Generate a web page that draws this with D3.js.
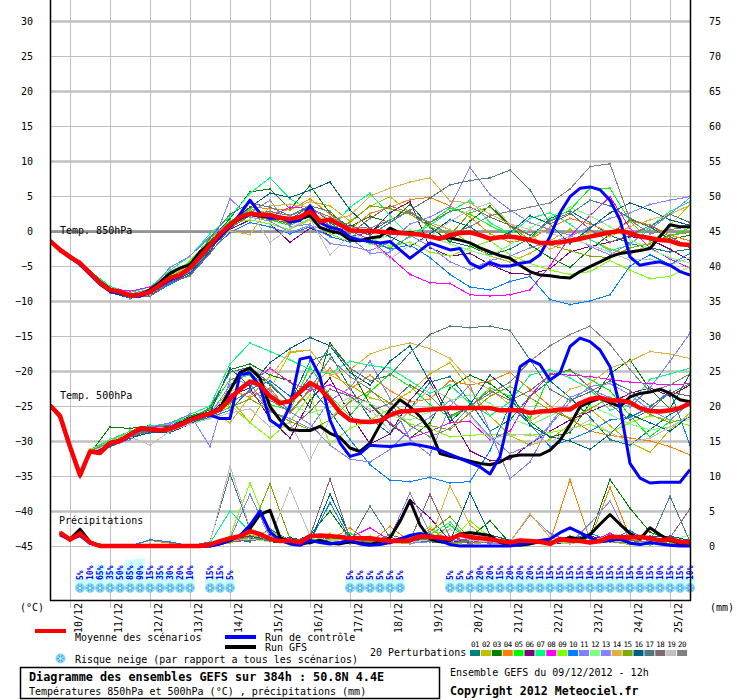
<!DOCTYPE html>
<html>
<head>
<meta charset="utf-8">
<script src="https://cdn.jsdelivr.net/npm/d3@7"></script>
<style>
body { margin: 0; background: #fff; }
svg { display: block; }
text { font-family: "DejaVu Sans Mono", monospace; }
</style>
</head>
<body>
<script>

// time steps (hours after 09/12/2012 12h)
var mainHours = d3.range(0, 385, 6);
var pertHours = [0, 6, 12, 18, 24, 36, 48, 60, 72, 84, 96, 108, 120, 132, 144, 156, 168, 180,
	192, 204, 216, 228, 240, 252, 264, 276, 288, 300, 312, 324, 336, 348, 360, 372, 384];

var dayLabels = ["10/12", "11/12", "12/12", "13/12", "14/12", "15/12", "16/12", "17/12",
	"18/12", "19/12", "20/12", "21/12", "22/12", "23/12", "24/12", "25/12"];

var leftTicks = [-45, -40, -35, -30, -25, -20, -15, -10, -5, 0, 5, 10, 15, 20, 25, 30];
var rightTicks = [0, 5, 10, 15, 20, 25, 30, 35, 40, 45, 50, 55, 60, 65, 70, 75];

var pertColors = ["#008080", "#c0c000", "#008000", "#ff8000", "#00ff00", "#800080", "#00ff80",
	"#ff00ff", "#80ff00", "#0080ff", "#8080ff", "#80ff80", "#8484ff", "#e0b040", "#80a800",
	"#006080", "#507880", "#806870", "#c0c0c0", "#808080"];

// mean of the scenarios (6h)
var mean850 = [-1.4,-2.7,-3.7,-4.6,-6.0,-7.4,-8.4,-8.7,-9.2,-9.1,
	-8.7,-7.7,-6.7,-6.3,-5.3,-3.7,-2.0,-0.4,0.9,2.0,
	2.5,2.3,2.3,1.9,1.7,2.0,2.8,1.4,1.6,0.9,
	0.1,0.0,0.0,-0.1,-0.2,-0.3,-0.4,-0.5,-0.8,-1.1,
	-0.6,-0.3,-0.2,-0.6,-1.1,-0.9,-0.8,-1.0,-1.3,-1.7,
	-1.7,-1.6,-1.4,-1.1,-0.8,-0.5,-0.2,0.0,-0.3,-0.8,
	-1.0,-1.3,-1.4,-1.9,-2.0];
var mean500 = [-24.9,-26.4,-30.8,-34.9,-31.5,-31.7,-30.3,-30.0,-29.1,-28.2,
	-28.3,-28.5,-28.3,-27.7,-27.0,-26.5,-26.1,-25.5,-24.0,-22.6,
	-21.5,-22.0,-23.6,-24.6,-24.3,-23.0,-21.7,-22.5,-24.1,-25.9,
	-27.0,-27.2,-27.3,-27.1,-26.3,-25.8,-25.7,-25.6,-25.5,-25.4,
	-25.3,-25.3,-25.3,-25.3,-25.3,-25.6,-25.6,-25.6,-26.0,-25.8,
	-25.7,-25.5,-25.5,-24.6,-24.0,-23.8,-24.2,-24.2,-24.5,-25.3,
	-25.7,-25.8,-25.6,-25.3,-24.6];
var meanPrecip = [null,1.9,0.9,1.8,0.5,0,0,0,0,0,0,0,0,0,0,0,
	0.2,0.7,1.1,1.4,2.1,1.7,1.0,0.7,0.8,0.5,
	1.4,1.5,1.4,1.3,1.1,1.1,1.1,0.9,0.7,0.7,
	0.8,1.4,1.3,1.2,1.0,1.6,1.3,1.1,1.0,0.7,
	0.5,0.8,0.7,0.6,0.3,1.0,0.8,0.7,0.5,0.7,
	1.3,1.3,1.2,1.3,1.1,0.8,1.0,0.6,0.5];

// control run (6h)
var ctrl850 = [-1.4,-2.7,-3.8,-4.8,-6.2,-7.6,-8.6,-8.9,-9.3,-9.3,
	-8.8,-7.9,-7.0,-6.4,-5.2,-3.6,-2.2,-0.8,0.6,2.4,
	4.4,2.5,1.8,2.0,1.3,1.5,3.6,1.2,0.5,0.2,
	-0.9,-1.3,-1.5,-1.7,-1.5,-2.7,-3.9,-2.8,-1.7,-2.2,
	-2.7,-2.5,-4.6,-5.3,-4.5,-5.0,-5.0,-4.6,-4.4,-3.4,
	-0.8,2.6,4.9,6.1,6.3,5.9,4.4,1.6,-3.7,-4.9,
	-4.6,-4.4,-4.9,-5.8,-6.3];
var ctrl500 = [-24.9,-26.6,-31.0,-34.8,-31.5,-31.8,-30.4,-30.0,-29.0,-28.4,
	-28.4,-28.6,-28.3,-27.6,-27.0,-26.4,-26.3,-26.8,-26.8,-20.5,
	-20.3,-22.2,-27.0,-28.0,-25.0,-18.3,-18.0,-20.8,-27.0,-30.3,
	-32.2,-31.8,-30.6,-30.7,-30.8,-30.6,-30.4,-30.6,-30.9,-31.3,
	-31.9,-32.5,-33.1,-33.7,-34.7,-32.2,-26.0,-19.4,-18.4,-19.1,
	-21.3,-20.3,-16.5,-15.3,-15.8,-17.0,-19.4,-25.1,-33.2,-35.3,
	-36.0,-35.9,-35.9,-35.9,-34.1];
var ctrlPrecip = [null,1.6,0.9,1.5,0.4,0,0,0,0,0,0,0,0,0,0,0,
	0,0.3,0.8,1.5,3.0,5.0,2.0,0.8,0.3,0.1,
	0.8,0.5,0.3,0.5,0.8,0.3,0.1,0.2,0.5,1.0,
	1.5,1.8,1.5,0.8,0.2,0,0,0,0,0,
	0,0.2,0.5,0.8,1.0,1.9,2.6,1.9,1.2,0.6,
	0.8,1.0,0.4,0.2,0.5,0.3,0.1,0,0];

// GFS run (6h)
var gfs850 = [-1.4,-2.6,-3.6,-4.6,-5.9,-7.3,-8.3,-8.7,-9.3,-9.1,
	-8.4,-7.3,-6.0,-5.3,-4.8,-3.0,-1.8,-0.4,0.8,1.8,
	2.4,2.1,2.0,1.8,1.5,1.7,2.2,0.5,0.0,-0.3,
	-1.3,-1.4,-1.0,-0.8,0.4,-0.3,-0.2,-0.5,-0.8,-1.0,
	-1.0,-1.3,-1.7,-2.4,-3.0,-3.5,-3.9,-4.9,-5.8,-6.3,
	-6.4,-6.6,-6.7,-5.8,-5.1,-4.4,-3.7,-3.2,-3.0,-2.8,
	-2.5,-0.8,0.9,0.6,0.6];
var gfs500 = [-24.9,-26.4,-30.8,-34.8,-31.5,-31.6,-30.2,-29.9,-29.0,-28.2,
	-28.2,-28.4,-28.2,-27.5,-26.8,-26.3,-26.0,-25.3,-22.8,-20.2,
	-19.6,-21.0,-25.1,-27.0,-28.4,-28.5,-28.5,-27.9,-28.9,-29.5,
	-31.0,-31.5,-30.3,-27.7,-25.6,-24.1,-25.1,-26.5,-28.4,-31.8,
	-32.2,-32.5,-32.9,-33.2,-33.4,-33.0,-32.2,-32.0,-32.0,-32.0,
	-31.3,-29.9,-27.7,-25.1,-24.4,-23.9,-24.5,-25.1,-23.7,-23.2,
	-23.0,-22.6,-23.2,-24.1,-24.4];
var gfsPrecip = [null,1.8,1.0,2.4,0.6,0,0,0,0,0,0,0,0,0,0,0,
	0,0.3,0.8,1.5,2.5,4.5,5.1,1.2,0.6,0.3,
	0.5,0.8,0.4,0.3,0.6,0.4,0.2,0.6,1.2,3.5,
	6.5,3.0,1.0,0.6,0.8,1.7,1.9,1.7,1.5,0.5,
	0.2,0.1,0.3,0.6,0.4,0.8,1.2,1.0,1.6,3.1,
	4.5,3.1,1.8,1.0,2.6,1.6,0.8,0.4,0.3];

// 20 perturbations, one row per member (values at pertHours)
var pert850 = [
	[-1.2,-2.6,-3.6,-4.7,-6.1,-8.6,-9.6,-9.2,-7.2,-5.8,-2.6,0.4,2.8,1.9,1.6,3.6,1.2,-0.8,-0.2,1.6,2.8,0.5,-1.5,-2.2,-3.4,-2.6,-1.0,1.8,2.9,1.2,-0.6,-1.8,-2.4,-3.0,-2.6],
	[-1.3,-2.8,-3.8,-4.6,-5.9,-8.2,-9.0,-8.4,-6.4,-4.9,-1.6,1.2,3.2,2.5,3.1,4.2,3.6,1.4,3.5,4.9,2.6,1.2,0.2,-1.8,-3.6,-4.4,-3.2,-1.4,0.3,-1.2,-2.6,-3.4,-1.8,0.8,3.8],
	[-1.4,-2.7,-3.7,-4.5,-6.0,-8.3,-9.1,-8.5,-6.3,-4.6,-1.4,1.8,5.6,6.0,3.1,6.5,2.5,0.6,2.1,1.2,3.8,0.6,-1.6,1.4,3.6,0.8,-2.0,-3.8,-5.2,-2.6,-0.5,1.6,0.6,-1.2,-0.6],
	[-1.5,-2.8,-3.9,-4.8,-6.2,-8.4,-9.3,-8.6,-6.5,-5.0,-1.8,1.0,3.4,3.2,3.0,4.6,2.4,0.2,2.5,3.4,4.5,4.8,3.6,2.0,-0.4,-1.6,-1.2,0.5,1.8,1.0,-0.2,1.4,0.9,-0.6,-1.4],
	[-1.3,-2.6,-3.6,-4.4,-5.8,-8.1,-9.0,-8.3,-6.0,-4.4,-1.0,1.4,3.0,1.6,0.8,2.2,0.2,-0.6,-1.8,-2.4,-0.8,1.2,3.3,2.4,0.8,-0.6,-1.2,1.5,3.0,6.1,6.1,1.4,-1.4,-0.8,0.5],
	[-1.4,-2.7,-3.7,-4.7,-6.1,-8.5,-9.3,-8.8,-6.8,-5.4,-2.1,0.2,1.6,1.0,-1.6,0.4,-0.6,0.8,-0.4,2.6,4.2,-2.4,-3.6,-3.2,-4.8,-6.0,-6.2,-5.4,-3.0,-2.2,-1.6,-0.8,-1.2,-2.6,-4.2],
	[-1.2,-2.5,-3.5,-4.3,-5.7,-7.9,-8.8,-8.0,-5.6,-3.6,-0.4,2.0,5.4,7.6,4.6,3.0,0.2,3.4,5.4,2.2,-0.8,0.8,2.8,4.4,1.2,-0.4,1.8,2.6,1.0,-1.2,-2.8,-2.0,0.6,2.8,4.2],
	[-1.3,-2.6,-3.6,-4.5,-5.9,-8.2,-8.6,-8.0,-6.9,-5.5,-2.3,0.3,2.4,2.0,3.4,3.2,1.6,0.0,-1.2,-3.7,-6.2,-7.4,-7.5,-9.1,-9.3,-9.1,-8.4,-5.0,-0.8,2.2,4.9,0.4,-2.4,-4.0,-5.3],
	[-1.4,-2.7,-3.7,-4.6,-5.9,-8.3,-9.1,-8.6,-6.6,-4.2,-1.2,1.1,1.6,1.0,0.2,1.6,-0.4,-1.6,-1.0,-2.2,-1.6,-3.0,-3.6,-2.4,-1.4,-3.4,-4.6,-5.6,-6.2,-5.8,-4.2,-5.6,-6.8,-6.5,-5.1],
	[-1.5,-2.9,-3.8,-4.9,-6.2,-8.7,-9.6,-9.3,-7.6,-6.2,-3.0,-0.2,1.2,0.6,-0.4,0.6,-0.8,-1.6,-1.2,-2.6,-2.0,-3.8,-6.2,-8.0,-8.4,-7.2,-6.5,-9.8,-10.5,-10.0,-9.1,-5.0,-3.4,-4.8,-3.2],
	[-1.3,-2.6,-3.6,-4.4,-5.8,-8.2,-9.0,-8.4,-5.2,-3.6,-0.8,1.2,2.6,4.4,0.6,1.0,-1.8,-2.2,-2.8,-1.6,1.0,2.0,3.5,9.1,5.2,3.0,1.2,0.2,-0.6,-2.2,-3.4,-1.8,0.2,2.4,4.8],
	[-1.4,-2.7,-3.7,-4.6,-6.0,-8.4,-9.2,-8.8,-6.9,-5.5,-2.4,0.6,2.2,2.4,1.8,2.4,1.6,-0.2,-1.4,-0.6,0.2,-0.8,-1.8,-2.8,-3.6,-2.0,0.4,2.0,3.4,2.2,0.6,-1.2,-2.6,-3.8,-4.6],
	[-1.4,-2.8,-3.8,-4.7,-6.1,-8.5,-9.4,-9.0,-7.3,-5.9,-2.8,4.6,2.0,1.4,-0.2,0.8,0.0,-1.0,-3.2,-3.0,-0.6,-2.2,-4.4,-5.6,-4.2,-3.6,-2.4,-1.6,-0.8,0.6,1.8,2.6,3.8,4.4,4.9],
	[-1.3,-2.6,-3.6,-4.5,-5.9,-8.3,-9.1,-8.5,-6.5,-5.0,-1.8,0.0,-0.5,3.6,3.8,3.4,1.6,2.2,5.0,6.1,7.0,7.6,4.3,4.0,2.4,1.0,-0.6,-2.6,-1.4,-0.2,-0.8,0.6,1.6,2.4,3.7],
	[-1.4,-2.7,-3.7,-4.6,-6.0,-8.4,-9.2,-8.6,-6.6,-5.1,-2.0,0.8,2.2,1.6,1.2,2.0,0.4,1.2,3.6,3.2,2.4,0.6,-0.6,2.6,3.4,0.6,-1.2,-2.0,-2.8,-3.6,-3.8,-2.4,-1.8,-0.6,-0.2],
	[-1.5,-2.9,-3.9,-4.9,-6.3,-8.8,-9.6,-9.2,-7.4,-6.0,-2.9,1.2,3.4,5.4,4.8,5.8,7.0,3.0,0.4,-0.8,-2.2,-0.4,1.6,0.6,-1.4,-0.2,2.2,1.0,-1.8,0.4,2.6,4.0,3.0,1.6,0.8],
	[-1.4,-2.7,-3.7,-4.6,-6.0,-8.4,-9.3,-8.8,-6.8,-5.4,-1.0,2.4,4.0,3.4,2.2,3.6,2.8,0.2,-0.6,1.2,3.0,4.7,6.6,7.2,7.6,8.7,5.9,1.0,2.4,4.4,3.6,1.8,0.6,2.4,1.2],
	[-1.4,-2.8,-3.7,-4.8,-6.1,-8.6,-9.5,-9.3,-7.4,-6.4,-3.2,0.4,2.2,1.8,1.0,2.4,0.8,-0.4,1.8,3.6,2.6,1.2,2.8,3.4,2.0,0.8,-0.6,1.4,2.6,0.2,-1.6,-0.6,0.8,-0.8,-2.4],
	[-1.4,-2.7,-3.8,-4.7,-6.1,-8.5,-9.5,-9.1,-7.0,-5.6,-2.2,1.0,2.8,-1.6,0.4,1.8,-3.4,-0.6,-1.5,-4.0,-2.0,-0.8,1.4,3.0,4.0,1.0,0.2,-0.4,-1.0,-2.0,-3.0,-4.2,-4.0,-4.9,-3.8],
	[-1.3,-2.6,-3.6,-4.5,-5.9,-8.2,-9.1,-8.6,-6.6,-5.1,-1.8,0.8,2.4,2.8,2.2,3.2,2.0,0.6,0.4,1.6,2.8,1.0,-0.4,0.6,2.2,2.8,3.4,4.0,6.0,9.2,9.6,1.6,-0.4,0.2,0.6]
];

var pert500 = [
	[-24.9,-26.4,-30.9,-35.0,-31.6,-30.5,-29.2,-28.6,-28.4,-27.3,-26.4,-22.5,-19.8,-22.0,-24.6,-18.5,-17.6,-22.4,-26.8,-29.0,-25.4,-21.6,-20.8,-24.4,-28.6,-27.0,-23.6,-21.4,-23.8,-26.6,-29.8,-30.6,-28.4,-26.2,-24.8],
	[-24.8,-26.3,-30.7,-34.8,-31.4,-30.0,-28.8,-28.0,-28.0,-26.8,-25.8,-24.0,-27.4,-22.6,-17.4,-17.0,-20.6,-22.0,-23.8,-24.6,-23.0,-20.4,-18.8,-22.6,-26.4,-29.2,-30.6,-29.8,-27.6,-25.4,-27.8,-30.2,-31.6,-28.4,-26.0],
	[-24.9,-26.5,-31.0,-35.2,-31.8,-28.0,-28.2,-27.8,-27.9,-26.4,-25.6,-19.8,-19.0,-20.6,-21.4,-25.2,-16.0,-19.6,-24.8,-27.6,-29.6,-27.4,-22.4,-20.6,-21.8,-24.0,-27.2,-29.4,-28.8,-24.6,-20.4,-18.4,-22.6,-25.4,-20.4],
	[-24.9,-26.4,-30.8,-34.9,-31.5,-30.4,-29.0,-28.4,-28.6,-27.2,-26.2,-22.6,-23.8,-22.4,-26.0,-22.8,-19.6,-22.6,-20.6,-22.8,-24.4,-24.0,-21.4,-22.0,-21.4,-20.2,-22.6,-25.0,-26.8,-28.6,-29.2,-29.6,-30.0,-30.8,-32.0],
	[-25.0,-26.5,-30.8,-34.9,-31.2,-30.0,-28.6,-28.0,-27.6,-26.6,-25.4,-21.2,-20.6,-24.8,-25.6,-19.4,-23.6,-26.4,-23.0,-20.4,-22.2,-24.8,-26.6,-25.2,-22.4,-23.6,-26.8,-20.6,-20.0,-21.2,-22.8,-26.4,-29.4,-27.2,-24.2],
	[-24.9,-26.3,-30.9,-35.0,-31.7,-30.6,-29.6,-28.4,-28.2,-27.0,-26.0,-23.6,-22.4,-26.8,-29.6,-24.2,-21.0,-26.2,-30.4,-29.0,-24.2,-21.0,-26.4,-31.4,-32.8,-32.6,-30.4,-28.6,-27.0,-25.8,-24.6,-23.2,-22.4,-23.6,-22.0],
	[-24.8,-26.2,-30.6,-34.6,-31.2,-29.8,-28.6,-27.8,-27.6,-26.2,-25.0,-19.0,-16.0,-17.2,-18.4,-19.8,-20.4,-18.6,-19.2,-19.6,-21.4,-23.2,-22.0,-24.6,-26.4,-24.4,-20.6,-19.8,-21.0,-22.6,-25.6,-24.8,-21.2,-20.4,-19.6],
	[-24.9,-26.4,-30.8,-34.8,-31.6,-30.2,-29.0,-28.0,-27.8,-26.8,-25.8,-23.4,-21.8,-19.6,-21.6,-22.8,-22.0,-23.4,-24.6,-27.4,-29.6,-28.6,-27.4,-27.2,-29.8,-28.6,-23.6,-20.4,-20.6,-20.8,-21.2,-21.6,-21.8,-22.0,-21.8],
	[-24.9,-26.4,-30.8,-34.9,-31.2,-30.4,-29.4,-28.6,-28.8,-27.6,-26.6,-24.8,-27.4,-29.6,-27.2,-23.4,-30.4,-28.2,-27.0,-25.4,-27.6,-28.2,-29.4,-29.2,-29.0,-29.0,-29.2,-28.8,-28.2,-27.6,-28.8,-27.4,-26.4,-27.0,-27.8],
	[-24.9,-26.4,-30.8,-34.8,-31.4,-30.2,-29.0,-28.6,-28.4,-27.4,-26.6,-25.6,-22.6,-21.4,-23.6,-22.2,-25.8,-29.8,-33.4,-35.6,-35.8,-35.2,-36.0,-35.8,-31.4,-24.8,-27.6,-30.8,-29.8,-28.6,-27.0,-26.6,-25.2,-22.8,-30.6],
	[-24.9,-26.5,-30.9,-35.0,-31.9,-30.8,-29.8,-28.0,-27.4,-26.2,-30.8,-21.2,-21.8,-25.8,-26.8,-28.2,-24.2,-22.4,-18.6,-24.0,-29.8,-32.0,-25.0,-22.0,-28.6,-35.4,-33.0,-27.6,-23.8,-22.6,-23.8,-25.2,-22.4,-18.6,-14.6],
	[-24.9,-26.4,-30.8,-34.9,-31.4,-30.2,-29.0,-28.2,-28.0,-26.8,-26.0,-23.0,-21.4,-23.4,-24.8,-26.0,-25.2,-23.8,-24.6,-26.4,-27.0,-25.8,-24.2,-23.4,-24.6,-26.8,-27.8,-26.4,-25.2,-25.0,-26.2,-27.6,-28.4,-28.0,-26.8],
	[-24.9,-26.4,-30.8,-34.9,-31.6,-30.4,-29.2,-28.8,-28.6,-27.4,-26.2,-22.0,-20.2,-22.8,-25.8,-27.6,-30.6,-32.6,-33.0,-31.2,-28.4,-26.6,-24.2,-26.2,-29.4,-31.8,-30.6,-27.8,-24.4,-22.2,-21.8,-23.4,-25.6,-27.0,-24.6],
	[-24.9,-26.4,-30.8,-34.9,-31.4,-30.0,-28.8,-28.4,-28.0,-27.0,-25.8,-27.4,-23.6,-20.8,-17.2,-17.0,-20.6,-19.8,-17.6,-16.6,-16.0,-16.8,-18.2,-21.4,-22.6,-24.8,-27.2,-25.4,-22.6,-21.8,-19.6,-18.6,-17.2,-17.6,-18.2],
	[-24.9,-26.4,-30.8,-35.0,-31.6,-30.4,-29.0,-28.6,-28.2,-27.2,-26.4,-25.2,-24.0,-25.6,-27.2,-28.4,-27.0,-24.4,-22.8,-24.6,-26.2,-27.8,-28.4,-26.0,-23.6,-22.2,-23.8,-25.6,-26.8,-25.4,-23.8,-24.6,-26.2,-27.4,-26.6],
	[-24.9,-26.4,-30.9,-35.1,-31.8,-30.8,-29.6,-28.8,-28.8,-27.6,-26.0,-19.6,-22.2,-18.8,-16.8,-15.2,-16.4,-20.2,-22.0,-18.6,-16.4,-21.6,-27.2,-24.8,-20.6,-23.0,-27.8,-29.4,-30.0,-31.2,-29.0,-26.2,-27.4,-28.6,-26.4],
	[-24.9,-26.4,-30.8,-34.8,-31.6,-30.6,-29.4,-28.6,-28.4,-27.0,-25.2,-20.2,-19.4,-21.8,-24.6,-20.8,-16.4,-19.6,-21.4,-20.6,-17.4,-14.8,-13.6,-13.8,-13.6,-14.2,-18.4,-22.6,-24.2,-23.0,-21.4,-22.8,-25.0,-23.2,-21.8],
	[-24.9,-26.4,-30.8,-34.9,-31.5,-30.2,-29.2,-28.6,-28.0,-27.2,-26.4,-24.4,-23.0,-25.6,-28.2,-25.8,-22.6,-23.6,-25.8,-24.6,-22.0,-23.6,-26.4,-25.0,-22.8,-24.2,-22.8,-20.6,-19.8,-22.4,-24.8,-27.0,-25.6,-23.0,-23.6],
	[-24.9,-26.4,-30.8,-34.9,-31.6,-30.4,-29.4,-30.6,-28.6,-27.6,-26.8,-26.0,-25.4,-28.0,-27.4,-32.8,-26.8,-24.0,-25.4,-28.6,-25.6,-22.4,-24.0,-26.4,-29.6,-29.2,-29.0,-30.2,-28.4,-27.0,-28.8,-30.2,-29.6,-28.0,-26.4],
	[-24.9,-26.4,-30.8,-34.9,-31.4,-30.2,-29.0,-28.4,-28.2,-27.2,-26.2,-24.6,-22.8,-24.2,-25.8,-22.6,-18.2,-20.8,-22.6,-25.4,-27.8,-29.4,-28.2,-25.0,-23.2,-21.6,-18.6,-16.4,-14.8,-13.6,-16.2,-19.8,-23.0,-22.0,-20.4]
];

var pertPrecip = [
	[null,1.7,0.8,1.6,0.4,0,0,0,0,0,0.2,1.0,0.6,2.4,0.8,0.4,1.2,0.6,0.2,0.8,1.4,0.6,0.3,0.8,0.4,0.2,0.5,0.8,0.3,1.2,0.6,0.4,0.2,0.8,0.3],
	[null,1.8,0.9,1.7,0.5,0,0,0.3,0,0,0,0.4,1.6,0.8,0.3,0.6,1.8,0.4,0.2,0.6,0.3,0.8,0.4,0.2,0.6,0.2,0.4,0.3,0.8,0.5,0.6,0.2,0.4,0.6,0.2],
	[null,1.9,0.9,1.8,0.5,0,0,0,0,0,0.3,0.8,1.2,0.6,0.4,1.6,5.0,1.0,0.4,0.6,1.0,0.6,0.4,1.2,3.6,0.4,0.6,0.4,0.8,1.4,9.5,5.4,2.0,0.8,0.4],
	[null,1.8,0.9,1.8,0.6,0,0,0.8,0.4,0,0,0.6,1.4,1.0,0.6,0.4,0.8,2.6,0.4,2.8,0.6,2.4,0.8,0.4,0.6,0.4,0.3,0.6,9.5,0.8,8.4,1.2,0.4,0.8,0.6],
	[null,1.9,1.0,1.9,0.5,0,0,0,0,0,0.4,1.2,2.0,1.4,0.6,1.0,0.8,1.8,0.6,0.4,1.6,0.8,3.0,0.6,0.4,0.8,0.3,0.6,0.4,1.2,0.6,0.8,0.4,1.0,0.6],
	[null,1.8,0.9,1.7,0.5,0,0,0,0,0,0.2,0.8,1.0,1.6,0.8,0.4,0.6,0.4,0.8,1.2,6.6,4.0,0.8,0.4,0.6,0.3,0.8,0.5,0.3,1.4,0.8,0.4,0.6,0.3,0.2],
	[null,1.8,0.8,1.7,0.5,0,0,0,0,0,0.4,5.0,2.0,0.8,1.2,0.6,1.4,0.8,0.6,1.0,0.8,1.6,3.4,0.8,0.6,0.4,0.8,0.6,1.0,0.4,0.6,0.8,0.4,1.2,0.6],
	[null,1.7,0.8,1.6,0.4,0,0,0,0,0,0.2,0.6,1.0,0.8,0.4,0.6,0.8,1.2,2.6,0.8,0.4,0.6,1.2,0.8,0.4,0.3,0.6,0.4,0.8,0.6,1.8,0.6,0.4,0.8,0.3],
	[null,1.9,1.0,1.8,0.6,0,0,0,0,0,0.4,1.4,9.0,2.0,0.8,0.6,1.0,0.8,1.4,0.6,0.8,2.8,0.6,3.6,1.2,0.6,0.4,0.6,0.3,0.8,0.6,0.4,0.6,0.8,0.4],
	[null,1.8,0.9,1.7,0.5,0,0,0.9,0.6,0,0.2,0.8,1.2,0.6,0.8,0.6,6.2,1.0,0.6,0.4,0.8,0.6,0.4,0.8,1.2,0.6,0.4,0.3,1.0,1.8,0.8,2.2,0.6,1.4,0.4],
	[null,1.8,0.9,1.7,0.5,0,0,0,0,0,0.2,1.0,7.4,1.2,0.6,0.4,0.8,0.4,0.6,1.2,7.6,1.8,0.6,0.4,0.8,0.6,4.4,1.8,0.6,0.4,1.2,0.6,0.4,0.8,0.6],
	[null,1.8,0.9,1.8,0.5,0,0,0,0,0,0.3,0.8,1.0,0.6,1.2,0.4,0.6,0.8,0.4,0.6,1.0,0.6,0.8,2.2,0.6,0.4,0.8,0.6,0.4,0.6,1.0,0.4,0.6,0.8,1.6],
	[null,1.7,0.8,1.6,0.4,0,0,0,0,0,0.2,0.6,2.4,0.8,0.4,0.6,0.8,0.4,0.6,0.8,0.4,0.6,0.8,0.6,0.4,0.3,0.6,0.8,0.4,3.2,6.4,0.8,0.6,0.4,0.2],
	[null,1.8,0.9,1.7,0.5,0,0,0,0,0,0.2,0.6,1.2,2.2,0.8,0.6,0.4,0.8,0.6,1.0,0.6,0.8,8.6,3.0,0.8,0.6,4.6,1.2,0.6,0.8,1.4,0.6,0.4,0.6,0.8],
	[null,1.9,1.0,1.8,0.6,0,0,0,0,0,0.3,1.2,2.0,8.9,1.0,0.6,1.4,0.8,0.6,0.4,1.2,2.0,4.2,1.0,0.8,0.4,0.6,0.8,1.0,0.4,1.6,0.8,0.6,0.4,0.6],
	[null,1.8,0.9,1.7,0.5,0,0,0,0,0,0.3,1.0,1.4,0.8,1.2,0.6,7.4,1.4,0.8,0.6,0.8,1.2,0.6,7.6,1.6,0.8,0.6,0.4,0.8,1.2,0.6,1.0,1.4,1.4,0.8],
	[null,1.8,0.9,1.8,0.5,0,0,0,0,0,0.6,10.3,2.4,0.8,0.6,0.4,0.8,0.6,5.7,1.2,0.8,0.6,0.4,0.8,0.6,0.4,0.8,0.6,1.4,0.6,0.8,0.4,0.6,7.1,0.6],
	[null,1.8,0.9,1.7,0.5,0,0,0,0,0,0.2,0.6,0.8,1.0,0.6,1.4,9.6,1.0,0.4,1.6,0.8,7.4,1.2,0.6,0.4,0.8,0.6,0.4,0.8,0.6,1.0,0.8,0.4,1.2,5.3],
	[null,1.8,0.9,1.7,0.5,0,0,0,0,0,0.4,11.4,2.6,1.0,8.3,1.4,0.8,0.6,1.0,0.4,0.6,0.8,2.4,0.8,0.6,0.4,0.8,0.6,0.4,0.6,0.8,0.4,0.6,0.8,0.4],
	[null,1.8,0.9,1.7,0.5,0,0,0,0,0,0.3,0.8,1.2,0.8,0.6,0.8,0.4,0.6,0.8,0.6,1.2,0.8,0.6,0.4,0.6,0.8,0.4,0.6,1.0,0.8,0.6,0.4,0.8,0.6,0.4]
];

// snow risk (hours, % of scenarios)
var snowHours = [18, 24, 30, 36, 42, 48, 54, 60, 66, 72, 78, 84,
	96, 102, 108,
	180, 186, 192, 198, 204, 210,
	240, 246, 252, 258, 264, 270, 276, 282, 288, 294, 300, 306, 312, 318, 324, 330, 336, 342,
	348, 354, 360, 366, 372, 378, 384];
var snowPct = [5, 10, 65, 35, 50, 85, 90, 15, 35, 30, 20, 10,
	15, 15, 5,
	5, 5, 5, 5, 5, 5,
	5, 5, 5, 20, 20, 15, 20, 20, 20, 15, 15, 15, 15, 15, 10, 15, 15, 15,
	15, 10, 15, 10, 15, 15, 10];

function load() {

	var width = 740, height = 700;
	var font = "DejaVu Sans Mono, monospace";

	var svg = d3.select("body").append("svg")
		.attr("width", width)
		.attr("height", height);

	// scales
	var x = d3.scaleLinear().domain([0, 384]).range([50, 690]);
	var y = d3.scaleLinear().domain([-45, 30]).range([546, 21]);
	var yR = d3.scaleLinear().domain([0, 75]).range([546, 21]);
	var snowBar = d3.scaleLinear().domain([0, 100]).range([10, 34]);

	var dayHours = dayLabels.map(function(d, i) { return 12 + 24 * i; });

	// grid
	var grid = svg.append("g");
	grid.selectAll("line.h")
		.data(leftTicks)
		.enter().append("line")
			.attr("x1", 50).attr("x2", 690)
			.attr("y1", function(d) { return y(d) + 0.5; })
			.attr("y2", function(d) { return y(d) + 0.5; })
			.attr("stroke", "#c0c0c0")
			.attr("stroke-width", function(d) { return d % 10 === 0 ? 2.5 : 1; });

	grid.selectAll("line.v")
		.data(dayHours)
		.enter().append("line")
			.attr("x1", function(d) { return x(d) + 0.5; })
			.attr("x2", function(d) { return x(d) + 0.5; })
			.attr("y1", 0).attr("y2", 608)
			.attr("stroke", "#c0c0c0")
			.attr("stroke-width", 1);

	// zero line
	grid.append("line")
		.attr("x1", 50).attr("x2", 690)
		.attr("y1", y(0) + 0.5).attr("y2", y(0) + 0.5)
		.attr("stroke", "#a0a0a0")
		.attr("stroke-width", 3);
	grid.append("line")
		.attr("x1", 50).attr("x2", 690)
		.attr("y1", y(0) + 1).attr("y2", y(0) + 1)
		.attr("stroke", "#888")
		.attr("stroke-width", 1);

	// snow risk row
	var snow = svg.append("g");
	snow.selectAll("rect")
		.data(snowHours)
		.enter().append("rect")
			.attr("x", function(d) { return x(d) - 5; })
			.attr("width", 10)
			.attr("y", function(d, i) { return 590 - snowBar(snowPct[i]); })
			.attr("height", function(d, i) { return snowBar(snowPct[i]); })
			.attr("fill", "#ccffff");

	snowHours.forEach(function(h) { flake(snow, x(h), 588); });

	snow.selectAll("text")
		.data(snowHours)
		.enter().append("text")
			.attr("transform", function(d) { return "translate(" + (x(d) + 3) + ",580) rotate(-90)"; })
			.attr("text-anchor", "start")
			.attr("font-family", font)
			.attr("font-size", 8)
			.attr("font-weight", "bold")
			.attr("fill", "#0000ff")
			.text(function(d, i) { return snowPct[i] + "%"; });

	// clip for the curves
	svg.append("clipPath").attr("id", "plot")
		.append("rect").attr("x", 50).attr("y", 0).attr("width", 640).attr("height", 600);

	var curves = svg.append("g").attr("clip-path", "url(#plot)");

	function drawLine(hours, vals, scale, color, w, dots) {
		var pts = hours.map(function(h, i) { return [h, vals[i]]; });
		var line = d3.line()
			.defined(function(d) { return d[1] != null; })
			.x(function(d) { return x(d[0]); })
			.y(function(d) { return scale(d[1]); });
		var p = curves.append("path")
			.datum(pts)
			.attr("d", line)
			.attr("fill", "none")
			.attr("stroke", color)
			.attr("stroke-width", w)
			.attr("stroke-linejoin", "round");
		if (dots) {
			p.attr("shape-rendering", "crispEdges");
			curves.append("g").selectAll("rect")
				.data(pts.filter(function(d) { return d[1] != null; }))
				.enter().append("rect")
					.attr("x", function(d) { return x(d[0]) - 1; })
					.attr("y", function(d) { return scale(d[1]) - 1; })
					.attr("width", 2).attr("height", 2)
					.attr("fill", color);
		}
	}

	// perturbations
	pertColors.forEach(function(c, i) {
		drawLine(pertHours, pertPrecip[i], yR, c, 1, true);
		drawLine(pertHours, pert500[i], y, c, 1, true);
		drawLine(pertHours, pert850[i], y, c, 1, true);
	});

	// GFS, control, mean
	[gfsPrecip, gfs500, gfs850].forEach(function(s, i) {
		drawLine(mainHours, s, i === 0 ? yR : y, "#000", 3, false);
	});
	[ctrlPrecip, ctrl500, ctrl850].forEach(function(s, i) {
		drawLine(mainHours, s, i === 0 ? yR : y, "#0000ff", 3, false);
	});
	[meanPrecip, mean500, mean850].forEach(function(s, i) {
		drawLine(mainHours, s, i === 0 ? yR : y, "#ff0000", 4.5, false);
	});

	// frame
	svg.append("line").attr("x1", 50.5).attr("x2", 50.5).attr("y1", 0).attr("y2", 601)
		.attr("stroke", "#000").attr("stroke-width", 1.5);
	svg.append("line").attr("x1", 690.5).attr("x2", 690.5).attr("y1", 0).attr("y2", 601)
		.attr("stroke", "#000").attr("stroke-width", 1.5);
	svg.append("line").attr("x1", 50).attr("x2", 691).attr("y1", 600.5).attr("y2", 600.5)
		.attr("stroke", "#000").attr("stroke-width", 1.5);

	// y axes
	var axL = svg.append("g")
		.attr("transform", "translate(50,0)")
		.call(d3.axisLeft(y).tickValues(leftTicks).tickSize(0).tickPadding(17));
	axL.select(".domain").remove();
	axL.selectAll("text").attr("font-family", font).attr("font-size", 10).attr("fill", "#000");

	var axR = svg.append("g")
		.attr("transform", "translate(690,0)")
		.call(d3.axisRight(yR).tickValues(rightTicks).tickSize(0).tickPadding(19));
	axR.select(".domain").remove();
	axR.selectAll("text").attr("font-family", font).attr("font-size", 10).attr("fill", "#000");

	// day labels
	svg.append("g").selectAll("text")
		.data(dayLabels)
		.enter().append("text")
			.attr("transform", function(d, i) { return "translate(" + (x(dayHours[i]) + 11.5) + ",603) rotate(-90)"; })
			.attr("text-anchor", "end")
			.attr("font-family", font)
			.attr("font-size", 10)
			.text(function(d) { return d; });

	function label(txt, px, py, size, bold) {
		return svg.append("text")
			.attr("x", px).attr("y", py)
			.attr("font-family", font)
			.attr("font-size", size)
			.attr("font-weight", bold ? "bold" : "normal")
			.attr("fill", "#000")
			.text(txt);
	}

	label("Temp. 850hPa", 60, 234, 10);
	label("Temp. 500hPa", 60, 399, 10);
	label("Précipitations", 59, 524, 10);
	label("(°C)", 20, 611, 10);
	label("(mm)", 710, 611, 10);

	// legend
	var legend = svg.append("g");
	legend.append("line").attr("x1", 35).attr("x2", 66).attr("y1", 631).attr("y2", 631)
		.attr("stroke", "#ff0000").attr("stroke-width", 4);
	legend.append("line").attr("x1", 225).attr("x2", 256).attr("y1", 637).attr("y2", 637)
		.attr("stroke", "#0000ff").attr("stroke-width", 4);
	legend.append("line").attr("x1", 225).attr("x2", 256).attr("y1", 647).attr("y2", 647)
		.attr("stroke", "#000").attr("stroke-width", 4);
	label("Moyenne des scénarios", 75, 641, 10);
	label("Run de contrôle", 265, 641, 10);
	label("Run GFS", 265, 651, 10);
	flake(legend, 60.5, 658.5);
	label("Risque neige (par rapport a tous les scénarios)", 75, 663, 10);
	label("20 Perturbations", 370, 656, 10);

	legend.selectAll("rect.sw")
		.data(pertColors)
		.enter().append("rect")
			.attr("x", function(d, i) { return 470 + i * 10.9; })
			.attr("y", 650)
			.attr("width", 10).attr("height", 6)
			.attr("fill", function(d) { return d; });
	legend.selectAll("text.sw")
		.data(pertColors)
		.enter().append("text")
			.attr("x", function(d, i) { return 475 + i * 10.9; })
			.attr("y", 647)
			.attr("text-anchor", "middle")
			.attr("font-family", font)
			.attr("font-size", 7.5)
			.attr("letter-spacing", -0.5)
			.text(function(d, i) { return d3.format("02")(i + 1); });

	// title box
	svg.append("rect")
		.attr("x", 20.5).attr("y", 667.5).attr("width", 419).attr("height", 31)
		.attr("fill", "none").attr("stroke", "#000").attr("stroke-width", 1.5);
	label("Diagramme des ensembles GEFS sur 384h : 50.8N 4.4E", 29, 681, 11.8, true);
	label("Températures 850hPa et 500hPa (°C) , précipitations (mm)", 29, 695, 10);
	label("Ensemble GEFS du 09/12/2012 - 12h", 450, 676, 10);
	label("Copyright 2012 Meteociel.fr", 450, 695, 11.6, true);
}

// small snowflake ball
function flake(g, cx, cy) {
	var f = g.append("g").attr("transform", "translate(" + cx + "," + cy + ")");
	f.append("circle").attr("r", 5).attr("fill", "#8ed8f6");
	[0, 60, 120].forEach(function(a) {
		f.append("line")
			.attr("x1", -4).attr("x2", 4).attr("y1", 0).attr("y2", 0)
			.attr("transform", "rotate(" + a + ")")
			.attr("stroke", "#3d9fe0").attr("stroke-width", 1);
	});
	f.append("circle").attr("r", 1.2).attr("fill", "#e8f8ff");
}

load();
</script>
</body>
</html>
